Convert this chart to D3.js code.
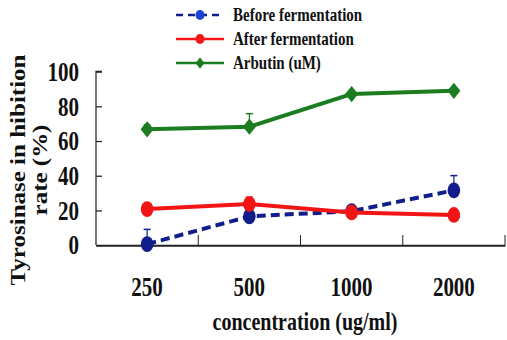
<!DOCTYPE html>
<html><head><meta charset="utf-8">
<script src="https://cdn.jsdelivr.net/npm/d3@7"></script>
<style>html,body{margin:0;padding:0;background:#fff;}svg{display:block;}
text{font-family:"Liberation Serif","Times New Roman",serif;font-weight:bold;fill:#111;}</style>
</head><body>
<svg id="chart" width="507" height="340" viewBox="0 0 507 272" preserveAspectRatio="none"></svg>
<script>
const categories = ["250", "500", "1000", "2000"];
const yTicks = [0, 20, 40, 60, 80, 100];
const seriesNames = ["Before fermentation", "After fermentation", "Arbutin (uM)"];
const beforeValues = [0.5, 16.5, 19.5, 31.5];
const beforeErrors = [8.5, 0, 0, 8.5];
const afterValues = [20.7, 23.6, 18.8, 17.3];
const afterErrors = [0, 4, 0, 0];
const arbutinValues = [66.7, 68.2, 87.0, 88.9];
const arbutinErrors = [2.5, 7.5, 0, 0];

const series = [
  {name: seriesNames[0], values: beforeValues, errors: beforeErrors, color: "#101d8a", legendMarker: "#1f3fd6", dash: "9,5", marker: "circle"},
  {name: seriesNames[1], values: afterValues, errors: afterErrors, color: "#f21515", legendMarker: "#f21515", dash: null, marker: "circle"},
  {name: seriesNames[2], values: arbutinValues, errors: arbutinErrors, color: "#1b7d1f", legendMarker: "#1b7d1f", dash: null, marker: "diamond"}
];

const svg = d3.select("#chart");
const x0 = 96, x1 = 505, yBottom = 196, yTop = 57.2;
const x = d3.scaleBand().domain(categories).range([x0, x1]);
const y = d3.scaleLinear().domain([0, 100]).range([yBottom, yTop]);
const cx = d => x(d) + x.bandwidth() / 2;

// axes
const yAxis = svg.append("g").attr("transform", `translate(${x0},0)`)
  .call(d3.axisRight(y).tickValues(yTicks).tickSize(6).tickFormat(""));
yAxis.select(".domain").attr("d", `M6,${yTop}H0V${yBottom}`).attr("stroke", "#222").attr("stroke-width", 1.2);
yAxis.selectAll(".tick line").attr("stroke", "#222");
const xAxis = svg.append("g").attr("transform", `translate(0,${yBottom})`)
  .call(d3.axisTop(x).tickValues([]).tickSizeOuter(0));
xAxis.select(".domain").attr("stroke", "#222").attr("stroke-width", 1.6);
const sep = categories.slice(1).map(c => x(c)).concat([x1]);
svg.append("g").selectAll("line").data(sep).join("line")
  .attr("x1", d => d).attr("x2", d => d).attr("y1", yBottom).attr("y2", yBottom - 8)
  .attr("stroke", "#222").attr("stroke-width", 1);

// y tick labels
svg.append("g").selectAll("text").data(yTicks).join("text")
  .attr("x", 79).attr("y", d => y(d)).attr("dy", "0.36em")
  .attr("text-anchor", "end").style("font-size", "21px").text(d => d);
// x tick labels
svg.append("g").selectAll("text").data(categories).join("text")
  .attr("x", d => cx(d)).attr("y", 237).attr("text-anchor", "middle")
  .style("font-size", "21px").text(d => d);
// axis titles
svg.append("text").attr("x", 305).attr("y", 264).attr("text-anchor", "middle")
  .style("font-size", "20px").text("concentration (ug/ml)");
svg.append("text").attr("transform", "translate(25,136) rotate(-90)").attr("text-anchor", "middle")
  .style("font-size", "20px").text("Tyrosinase in hibition");
svg.append("text").attr("transform", "translate(47,136) rotate(-90)").attr("text-anchor", "middle")
  .style("font-size", "20px").text("rate (%)");

const line = d3.line().x((d, i) => cx(categories[i])).y(d => y(d));
const diamond = (px, py, w, h) => `M${px},${py - h}L${px + w},${py}L${px},${py + h}L${px - w},${py}Z`;

series.forEach(s => {
  const g = svg.append("g");
  // error bars
  s.values.forEach((v, i) => {
    if (s.errors[i] > 0) {
      const px = cx(categories[i]);
      g.append("line").attr("x1", px).attr("x2", px).attr("y1", y(v)).attr("y2", y(v + s.errors[i]))
        .attr("stroke", s.color).attr("stroke-width", 1.2);
      g.append("line").attr("x1", px - 3.5).attr("x2", px + 3.5).attr("y1", y(v + s.errors[i])).attr("y2", y(v + s.errors[i]))
        .attr("stroke", s.color).attr("stroke-width", 1.2);
    }
  });
  g.append("path").attr("d", line(s.values)).attr("fill", "none")
    .attr("stroke", s.color).attr("stroke-width", 3.2).attr("stroke-dasharray", s.dash);
  s.values.forEach((v, i) => {
    const px = cx(categories[i]);
    if (s.marker === "circle") {
      g.append("ellipse").attr("cx", px).attr("cy", y(v)).attr("rx", 6.3).attr("ry", 6.3).attr("fill", s.color);
    } else {
      g.append("path").attr("d", diamond(px, y(v), 6.5, 6.5)).attr("fill", s.color);
    }
  });
});

// legend
const legend = svg.append("g");
series.forEach((s, i) => {
  const ly = 12 + i * 19.2;
  legend.append("line").attr("x1", 176).attr("x2", 224).attr("y1", ly).attr("y2", ly)
    .attr("stroke", s.color).attr("stroke-width", 2).attr("stroke-dasharray", s.dash ? "7,5" : null);
  if (s.marker === "circle") {
    legend.append("ellipse").attr("cx", 200).attr("cy", ly).attr("rx", 4.5).attr("ry", 4).attr("fill", s.legendMarker);
  } else {
    legend.append("path").attr("d", diamond(200, ly, 4.5, 4.5)).attr("fill", s.legendMarker);
  }
  legend.append("text").attr("x", 233).attr("y", ly).attr("dy", "0.34em")
    .style("font-size", "15px").text(s.name);
});
</script>
</body></html>
